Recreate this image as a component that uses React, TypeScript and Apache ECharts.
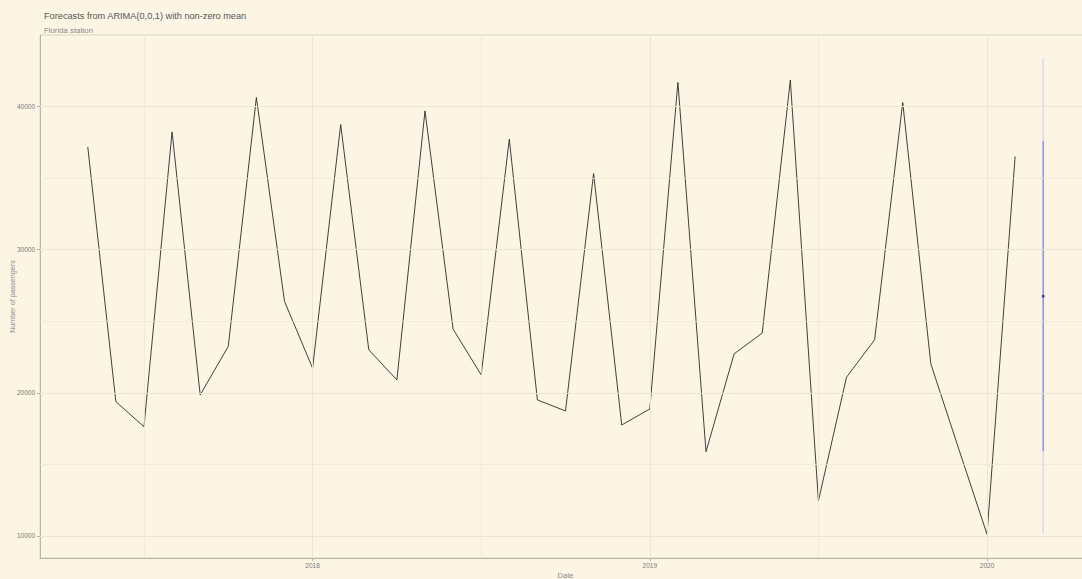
import React, { useEffect, useRef } from 'react';
import * as echarts from 'echarts';

// Monthly series, starting May 2017, ending Feb 2020
const startYear = 2017;
const startMonth = 5;
const passengers = [
  37170, 19380, 17630, 38220, 19850, 23240, 40630, 26390,
  21720, 38740, 23000, 20900, 39690, 24450, 21250, 37710, 19500, 18730, 35310, 17750,
  18870, 41680, 15880, 22720, 24170, 41840, 12450, 21090, 23700, 40280, 22020, 16040,
  10120, 36510,
];

// One-step forecast (Mar 2020)
const forecastYear = 2020;
const forecastMonthNo = 3;
const forecastMean = 26750;
const lo80 = 15910;
const hi80 = 37590;
const lo95 = 10170;
const hi95 = 43330;

const xMajorTicks = [2018, 2019, 2020];
const xMinorGrid = [2017.5, 2018.5, 2019.5];
const yMajorTicks = [10000, 20000, 30000, 40000];
const yMinorGrid = [15000, 25000, 35000];

const titleText = 'Forecasts from ARIMA(0,0,1) with non-zero mean';
const subtitleText = 'Florida station';

const FONT = '"Liberation Sans", Arial, sans-serif';

export default function App() {
  const ref = useRef<HTMLDivElement>(null);
  useEffect(() => {
    if (!ref.current) return;
    const chart = echarts.init(ref.current, undefined, { renderer: 'svg' });

    const lineData = passengers.map((v, i) => [startYear + (startMonth - 1 + i) / 12, v]);
    const fx = forecastYear + (forecastMonthNo - 1) / 12;

    const xs = [...lineData.map((d) => d[0]), fx];
    const ys = [...passengers, lo95, hi95, forecastMean];
    const xLo = Math.min(...xs), xHi = Math.max(...xs);
    const yLo = Math.min(...ys), yHi = Math.max(...ys);
    const xPad = (xHi - xLo) * 0.05;
    const yPad = (yHi - yLo) * 0.05;

    const gridColor = '#ece5d1';
    const labelColor = '#7a7a7a';

    chart.setOption({
      animation: false,
      backgroundColor: '#fcf5e4',
      title: [
        { text: titleText, left: 39, top: 6, textStyle: { fontSize: 9.2, fontWeight: 'normal', color: '#555', fontFamily: FONT } },
        { text: subtitleText, left: 39, top: 21, textStyle: { fontSize: 7.8, fontWeight: 'normal', color: '#888', fontFamily: FONT } },
      ],
      grid: {
        left: 40, top: 35, width: 1051, height: 523,
        outerBoundsMode: 'none',
        containLabel: false,
        show: true, borderColor: '#d9d3c3', borderWidth: 1, backgroundColor: 'transparent',
      },
      xAxis: {
        type: 'value',
        min: xLo - xPad,
        max: xHi + xPad,
        name: 'Date',
        nameLocation: 'middle',
        nameGap: 13,
        nameMoveOverlap: false,
        nameTextStyle: { fontSize: 7.5, color: '#888', fontFamily: FONT },
        axisLine: { show: true, lineStyle: { color: '#b8b4a8', width: 1 } },
        axisTick: { show: true, length: 3, customValues: xMajorTicks, lineStyle: { color: '#b8b4a8' } },
        axisLabel: { customValues: xMajorTicks, margin: 4, fontSize: 6.5, color: labelColor, fontFamily: FONT, formatter: (v: number) => String(Math.round(v)) },
        splitLine: { show: false },
      },
      yAxis: {
        type: 'value',
        min: yLo - yPad,
        max: yHi + yPad,
        name: 'Number of passengers',
        nameLocation: 'middle',
        nameGap: 24,
        nameMoveOverlap: false,
        nameRotate: 90,
        nameTextStyle: { fontSize: 7.2, color: '#888', fontFamily: FONT },
        axisLine: { show: true, lineStyle: { color: '#b8b4a8', width: 1 } },
        axisTick: { show: true, length: 3, customValues: yMajorTicks, lineStyle: { color: '#b8b4a8' } },
        axisLabel: { customValues: yMajorTicks, margin: 5, fontSize: 6.5, color: labelColor, fontFamily: FONT, formatter: (v: number) => String(Math.round(v)) },
        splitLine: { show: false },
      },
      series: [
        {
          name: 'grid',
          type: 'line',
          data: [[2018, 20000]],
          showSymbol: false,
          symbol: 'none',
          lineStyle: { opacity: 0 },
          silent: true,
          z: 1,
          markLine: {
            silent: true,
            symbol: ['none', 'none'],
            label: { show: false },
            animation: false,
            data: [
              ...xMajorTicks.map((v) => ({ xAxis: v, lineStyle: { color: gridColor, width: 1, type: 'solid' } })),
              ...xMinorGrid.map((v) => ({ xAxis: v, lineStyle: { color: gridColor, width: 0.7, type: 'solid' } })),
              ...yMajorTicks.map((v) => ({ yAxis: v, lineStyle: { color: gridColor, width: 1, type: 'solid' } })),
              ...yMinorGrid.map((v) => ({ yAxis: v, lineStyle: { color: gridColor, width: 0.7, type: 'solid' } })),
            ],
          },
        },
        {
          name: 'passengers',
          type: 'line',
          data: lineData,
          showSymbol: false,
          symbol: 'none',
          lineStyle: { color: '#2b2b2b', width: 0.9 },
          z: 3,
        },
        {
          name: '95%',
          type: 'line',
          data: [[fx, lo95], [fx, hi95]],
          showSymbol: false,
          symbol: 'none',
          lineStyle: { color: '#dcdcf2', width: 1.6 },
          z: 3,
        },
        {
          name: '80%',
          type: 'line',
          data: [[fx, lo80], [fx, hi80]],
          showSymbol: false,
          symbol: 'none',
          lineStyle: { color: '#9a9ade', width: 1.6 },
          z: 4,
        },
        {
          name: 'forecast',
          type: 'scatter',
          data: [[fx, forecastMean]],
          symbolSize: 3,
          itemStyle: { color: '#2a2aa0' },
          z: 5,
        },
      ],
    });
    return () => chart.dispose();
  }, []);
  return <div ref={ref} style={{ position: 'fixed', left: 0, top: 0, width: 1082, height: 579 }} />;
}
